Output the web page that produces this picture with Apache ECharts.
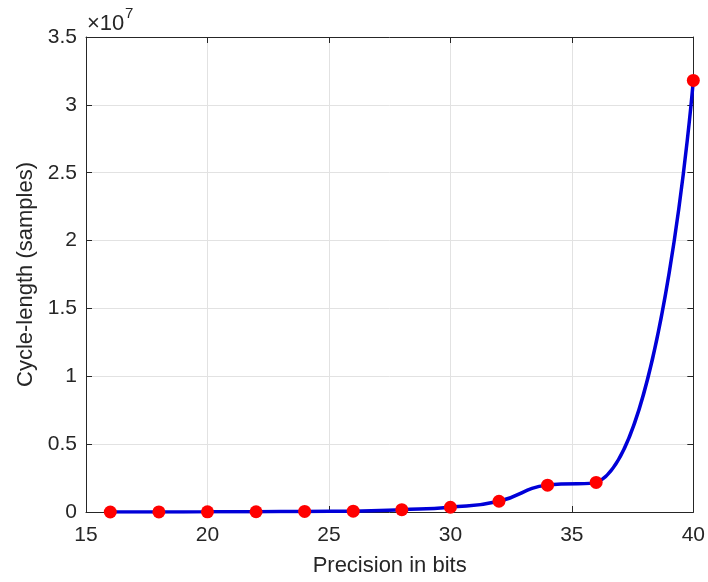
<!DOCTYPE html>
<html>
<head>
<meta charset="utf-8">
<script src="https://cdn.jsdelivr.net/npm/echarts@6/dist/echarts.min.js"></script>
<style>
  html, body { margin: 0; padding: 0; background: #fff; }
  #chart { width: 708px; height: 582px; }
</style>
</head>
<body>
<div id="chart"></div>
<script>
// Precision (bits) and measured cycle length in samples
const precisionBits = [16, 18, 20, 22, 24, 26, 28, 30, 32, 34, 36, 40];
const cycleLength = [2000, 5000, 10000, 20000, 40000, 60000, 170000, 350000, 790000, 1980000, 2180000, 31800000];
const xTicks = [15, 20, 25, 30, 35, 40];
const yTicks = [0, 0.5, 1, 1.5, 2, 2.5, 3, 3.5];
const yScale = 1e7;

const points = precisionBits.map((b, i) => [b, cycleLength[i]]);
const axisColor = '#262626';
const font = 'Liberation Sans, Arial, Helvetica, sans-serif';

const chart = echarts.init(document.getElementById('chart'), null, { renderer: 'canvas' });

const baseX = {
  type: 'value', min: xTicks[0], max: xTicks[xTicks.length - 1], interval: 5,
  axisLine: { show: true, onZero: false, lineStyle: { color: axisColor, width: 1 } },
  axisTick: { show: true, inside: true, length: 6, lineStyle: { color: axisColor } }
};
const baseY = {
  type: 'value', min: yTicks[0] * yScale, max: yTicks[yTicks.length - 1] * yScale, interval: 0.5 * yScale,
  axisLine: { show: true, onZero: false, lineStyle: { color: axisColor, width: 1 } },
  axisTick: { show: true, inside: true, length: 6, lineStyle: { color: axisColor } }
};

chart.setOption({
  animation: false,
  backgroundColor: '#ffffff',
  // exponent marker above the y axis
  graphic: [
    { type: 'text', left: 87, top: 13,
      style: { text: '×10', font: '22px ' + font, fill: axisColor } },
    { type: 'text', left: 125, top: 6,
      style: { text: '7', font: '15px ' + font, fill: axisColor } }
  ],
  grid: { left: 86, right: 14, top: 37, bottom: 69, containLabel: false },
  xAxis: [
    Object.assign({}, baseX, {
      position: 'bottom',
      name: 'Precision in bits', nameLocation: 'middle', nameGap: 43,
      nameTextStyle: { fontFamily: font, fontSize: 22, color: axisColor },
      axisLabel: { show: true, margin: 13, fontFamily: font, fontSize: 21, color: axisColor },
      splitLine: { show: true, lineStyle: { color: '#e2e2e2', width: 1 } }
    }),
    Object.assign({}, baseX, {
      position: 'top',
      axisLabel: { show: false },
      splitLine: { show: false }
    })
  ],
  yAxis: [
    Object.assign({}, baseY, {
      position: 'left',
      name: 'Cycle-length (samples)', nameLocation: 'middle', nameGap: 48, nameRotate: 90,
      nameTextStyle: { fontFamily: font, fontSize: 22, color: axisColor },
      axisLabel: {
        show: true, margin: 9, fontFamily: font, fontSize: 21, color: axisColor,
        formatter: v => String(Math.round(v / yScale * 10) / 10)
      },
      splitLine: { show: true, lineStyle: { color: '#e2e2e2', width: 1 } }
    }),
    Object.assign({}, baseY, {
      position: 'right',
      axisLabel: { show: false },
      splitLine: { show: false }
    })
  ],
  series: [{
    type: 'line',
    xAxisIndex: 0, yAxisIndex: 0,
    data: points,
    smooth: 0.5,
    symbol: 'circle',
    symbolSize: 13,
    showAllSymbol: true,
    lineStyle: { color: '#0000d8', width: 3.5 },
    itemStyle: { color: '#ff0000', borderWidth: 0 },
    z: 3
  }]
});
</script>
</body>
</html>
